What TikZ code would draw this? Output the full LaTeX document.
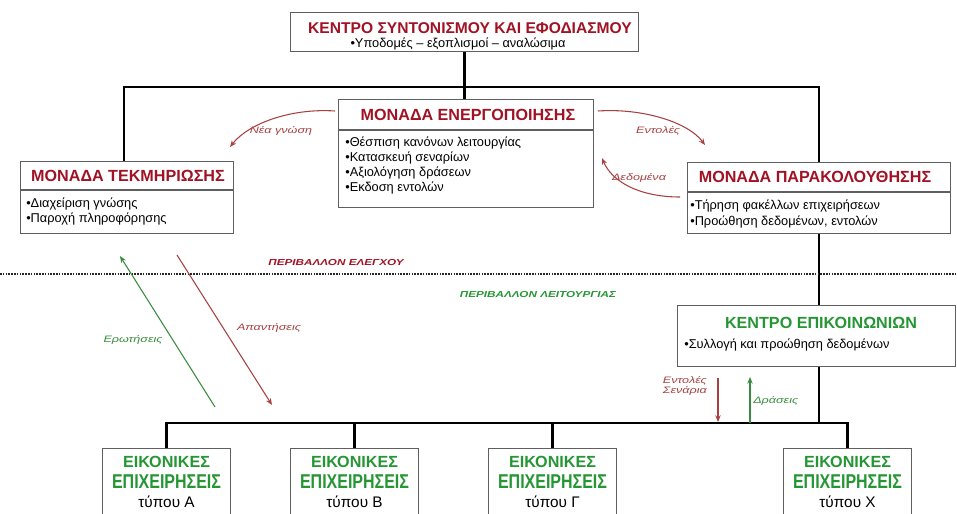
\documentclass[tikz,border=0pt]{standalone}
\usepackage{fontspec}
\setmainfont{Liberation Sans}
\newfontfamily\condf[FakeStretch=0.8]{Liberation Sans}
\newfontfamily\widef[FakeStretch=1.35]{Liberation Sans}
\usetikzlibrary{arrows.meta}
\definecolor{hdr}{RGB}{160,18,36}
\definecolor{grn}{RGB}{38,150,52}
\definecolor{arrred}{RGB}{168,64,64}
\definecolor{arrgrn}{RGB}{56,140,62}
\definecolor{boxline}{RGB}{95,95,95}
\tikzset{
  box/.style={draw=boxline, line width=0.8pt, fill=white, anchor=north west, inner sep=0pt},
  hdrtxt/.style={font=\bfseries\fontsize{12.1}{13}\selectfont, text=hdr, inner sep=0pt},
  toptxt/.style={font=\bfseries\fontsize{11.7}{13}\selectfont, text=hdr, inner sep=0pt},
  grntxt/.style={font=\bfseries\fontsize{12.1}{13}\selectfont, text=grn, inner sep=0pt},
  itm/.style={font=\fontsize{9.6}{11}\selectfont, anchor=west, inner sep=0pt},
  conn/.style={line width=1.6pt, black},
  lab/.style={font=\widef\itshape\fontsize{7}{8}\selectfont, inner sep=0pt},
  envlab/.style={font=\widef\bfseries\itshape\fontsize{6.5}{7.5}\selectfont, inner sep=0pt},
  redarr/.style={arrred, line width=0.8pt, -{Stealth[length=5pt,width=4pt]}},
  grnarr/.style={arrgrn, line width=0.8pt, -{Stealth[length=5pt,width=4pt]}},
  typebox/.style={box, minimum width=96pt, minimum height=62pt},
}
\begin{document}
\begin{tikzpicture}[x=0.75pt,y=-0.75pt]
\useasboundingbox (0,0) rectangle (957,514);
\clip (0,0) rectangle (957,514);

% spine coordinates
\coordinate (hl) at (124,87);
\coordinate (sp) at (819,87);
\coordinate (bl) at (164,423);

% boxes
\node[box, minimum width=261pt, minimum height=29.25pt] (top) at (290,12) {};
\node[box, minimum width=191.25pt, minimum height=81pt] (ener) at (338,99) {};
\node[box, minimum width=159.75pt, minimum height=54pt] (tek) at (20,161) {};
\node[box, minimum width=197.25pt, minimum height=53.25pt] (par) at (687,162) {};
\node[box, minimum width=208.5pt, minimum height=45.75pt] (comm) at (677,305) {};
\node[typebox] (bA) at (102,448) {};
\node[typebox] (bB) at (290,448) {};
\node[typebox] (bG) at (488,448) {};
\node[typebox] (bX) at (783,448) {};

% header separators
\draw[boxline, line width=0.8pt] (338,130) -- (593,130);
\draw[boxline, line width=0.8pt] (20,190) -- (233,190);
\draw[boxline, line width=0.8pt] (687,192) -- (950,192);

% connectors
\draw[conn] (top.south) -- (top.south |- ener.north);
\draw[conn] (tek.north -| hl) -- (hl) -- (sp) -- (par.north -| sp);
\draw[conn] (par.south -| sp) -- (comm.north -| sp);
\draw[conn] (comm.south -| sp) -- (sp |- bl);
\draw[conn] (bA.north) -- (bA.north |- bl) -- (bX.north |- bl) -- (bX.north);
\draw[conn] (bB.north) -- (bB.north |- bl);
\draw[conn] (bG.north) -- (bG.north |- bl);

% texts: top
\node[toptxt] (topT) at (470,28) {ΚΕΝΤΡΟ ΣΥΝΤΟΝΙΣΜΟΥ ΚΑΙ ΕΦΟΔΙΑΣΜΟΥ};
\node[font=\fontsize{9.6}{11}\selectfont, inner sep=0pt] (topS) at (458,44) {•Υποδομές – εξοπλισμοί – αναλώσιμα};

% ener
\node[hdrtxt] (enerT) at (468,115) {ΜΟΝΑΔΑ ΕΝΕΡΓΟΠΟΙΗΣΗΣ};
\node[itm] (e1) at (345,143) {•Θέσπιση κανόνων λειτουργίας};
\node[itm] (e2) at (345,158) {•Κατασκευή σεναρίων};
\node[itm] (e3) at (345,173) {•Αξιολόγηση δράσεων};
\node[itm] (e4) at (345,188) {•Εκδοση εντολών};

% tek
\node[hdrtxt] (tekT) at (128,176) {ΜΟΝΑΔΑ ΤΕΚΜΗΡΙΩΣΗΣ};
\node[itm] (t1) at (26,204) {•Διαχείριση γνώσης};
\node[itm] (t2) at (26,219) {•Παροχή πληροφόρησης};

% par
\node[hdrtxt] (parT) at (815,177) {ΜΟΝΑΔΑ ΠΑΡΑΚΟΛΟΥΘΗΣΗΣ};
\node[itm] (p1) at (690,206) {•Τήρηση φακέλλων επιχειρήσεων};
\node[itm] (p2) at (690,222) {•Προώθηση δεδομένων, εντολών};

% comm
\node[grntxt] (commT) at (821,323) {ΚΕΝΤΡΟ ΕΠΙΚΟΙΝΩΝΙΩΝ};
\node[itm] (c1) at (684,345) {•Συλλογή και προώθηση δεδομένων};

% type boxes
\foreach \b/\t in {bA/Α, bB/Β, bG/Γ, bX/Χ}{
  \node[grntxt, anchor=center] (\b1) at ([yshift=-10.5pt]\b.north) {ΕΙΚΟΝΙΚΕΣ};
  \node[font=\condf\bfseries\fontsize{15}{16}\selectfont, text=grn, inner sep=0pt] (\b2) at ([yshift=-25.5pt]\b.north) {ΕΠΙΧΕΙΡΗΣΕΙΣ};
  \node[font=\fontsize{11.5}{13}\selectfont, inner sep=0pt] (\b3) at ([yshift=-40.5pt]\b.north) {τύπου \t};
}

% control / operation environments
\draw[black!85, line width=1.3pt, dash pattern=on 1.2pt off 0.9pt] (0,274) -- (957,274);
\node[envlab, text=hdr] (envC) at (336,263) {ΠΕΡΙΒΑΛΛΟΝ ΕΛΕΓΧΟΥ};
\node[envlab, text=grn] (envO) at (538,295) {ΠΕΡΙΒΑΛΛΟΝ ΛΕΙΤΟΥΡΓΙΑΣ};

% curved arrows
\coordinate (n1) at (335,111);
\coordinate (n2) at (230,147);
\draw[redarr] (n1) .. controls (290,108) and (248,124) .. (n2);
\node[lab, text=arrred] (nL) at (281,131) {Νέα γνώση};

\coordinate (en1) at (598,111);
\coordinate (en2) at (705,145);
\draw[redarr] (en1) .. controls (642,108) and (688,122) .. (en2);
\node[lab, text=arrred] (enL) at (658,131) {Εντολές};

\coordinate (d1) at (680,197);
\coordinate (d2) at (602,158);
\draw[redarr] (d1) .. controls (640,197) and (612,182) .. (d2);
\node[lab, text=arrred] (dL) at (639,178) {Δεδομένα};

% straight arrows
\coordinate (q1) at (215,407);
\coordinate (q2) at (120,256);
\draw[grnarr] (q1) -- (q2);
\node[lab, text=arrgrn] (qL) at (133,340) {Ερωτήσεις};

\coordinate (a1) at (177,255);
\coordinate (a2) at (272,405);
\draw[redarr] (a1) -- (a2);
\node[lab, text=arrred] (aL) at (269,328) {Απαντήσεις};

\coordinate (s1) at (718,378);
\coordinate (s2) at (718,422);
\draw[redarr] (s1) -- (s2);
\node[lab, text=arrred, align=right, anchor=east] (sL) at (707,386) {Εντολές\\Σενάρια};

\coordinate (r1) at (750,423);
\coordinate (r2) at (750,377);
\draw[grnarr] (r1) -- (r2);
\node[lab, text=arrgrn, anchor=west] (rL) at (753,401) {Δράσεις};
\end{tikzpicture}
\end{document}
